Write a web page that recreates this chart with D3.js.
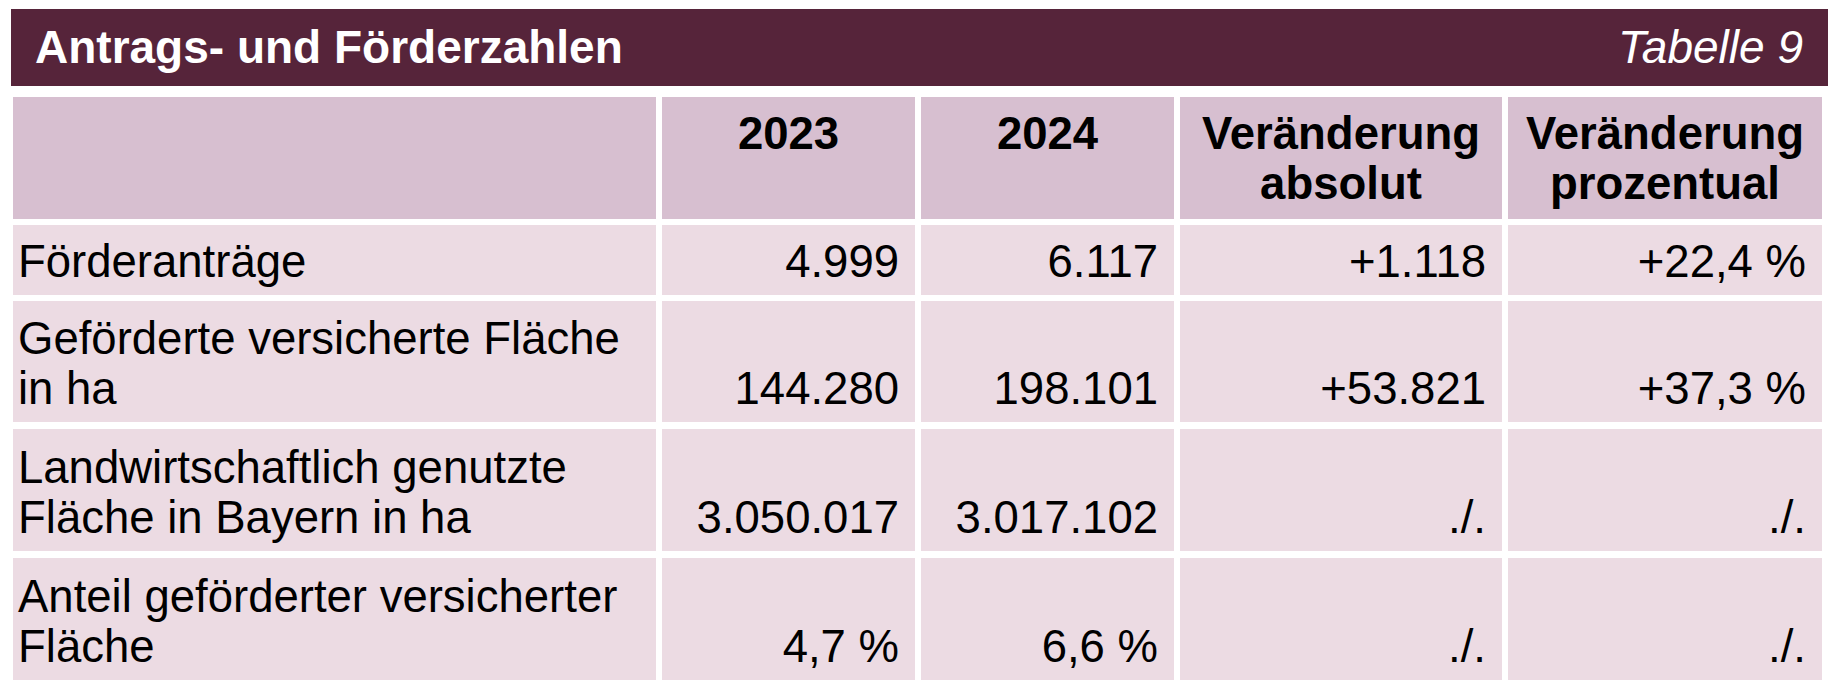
<!DOCTYPE html>
<html><head><meta charset="utf-8">
<script src="https://cdn.jsdelivr.net/npm/d3@7"></script>
<style>body{margin:0;background:#fff}text{font-family:"Liberation Sans",Arial,sans-serif}</style>
</head><body>
<script>
var title = "Antrags- und Förderzahlen";
var tableLabel = "Tabelle 9";
var headers = [[""], ["2023"], ["2024"], ["Veränderung", "absolut"], ["Veränderung", "prozentual"]];
var rowLabels = [["Förderanträge"], ["Geförderte versicherte Fläche", "in ha"],
  ["Landwirtschaftlich genutzte", "Fläche in Bayern in ha"], ["Anteil geförderter versicherter", "Fläche"]];
var values2023 = ["4.999", "144.280", "3.050.017", "4,7 %"];
var values2024 = ["6.117", "198.101", "3.017.102", "6,6 %"];
var changeAbs = ["+1.118", "+53.821", "./.", "./."];
var changePct = ["+22,4 %", "+37,3 %", "./.", "./."];

var colEdges = [13, 662, 921, 1180, 1508, 1828];
var rowEdges = [[97, 219], [225, 295], [301, 422], [429, 551], [558, 680]];
var fs = 45.5, lh = 50;

var svg = d3.select("body").append("svg").attr("width", 1838).attr("height", 688);

svg.append("rect").attr("x", 11).attr("y", 9).attr("width", 1817).attr("height", 77).attr("fill", "#56243a");
svg.append("text").attr("x", 35).attr("y", 63).attr("fill", "#fff").attr("font-size", 46)
  .attr("font-weight", "bold").text(title);
svg.append("text").attr("x", 1803).attr("y", 63).attr("fill", "#fff").attr("font-size", 46)
  .attr("font-style", "italic").attr("text-anchor", "end").text(tableLabel);

var rows = [headers].concat(rowLabels.map(function(l, i) {
  return [l, [values2023[i]], [values2024[i]], [changeAbs[i]], [changePct[i]]];
}));

rows.forEach(function(row, r) {
  var y0 = rowEdges[r][0], y1 = rowEdges[r][1];
  row.forEach(function(lines, c) {
    var x0 = colEdges[c], x1 = colEdges[c + 1] - 6;
    svg.append("rect").attr("x", x0).attr("y", y0).attr("width", x1 - x0).attr("height", y1 - y0)
      .attr("fill", r === 0 ? "#d7bfd0" : "#ecdbe3");
    var t = svg.append("text").attr("font-size", fs).attr("fill", "#000");
    if (r === 0) {
      t.attr("text-anchor", "middle").attr("font-weight", "bold");
      lines.forEach(function(s, k) {
        t.append("tspan").attr("x", (x0 + x1) / 2).attr("y", y0 + 52 + k * lh).text(s);
      });
    } else if (c === 0) {
      var n = lines.length;
      lines.forEach(function(s, k) {
        t.append("tspan").attr("x", x0 + 5).attr("y", y1 - 18 - (n - 1 - k) * lh).text(s);
      });
    } else {
      t.attr("text-anchor", "end").append("tspan").attr("x", x1 - 16).attr("y", y1 - 18).text(lines[0]);
    }
  });
});
</script>
</body></html>
